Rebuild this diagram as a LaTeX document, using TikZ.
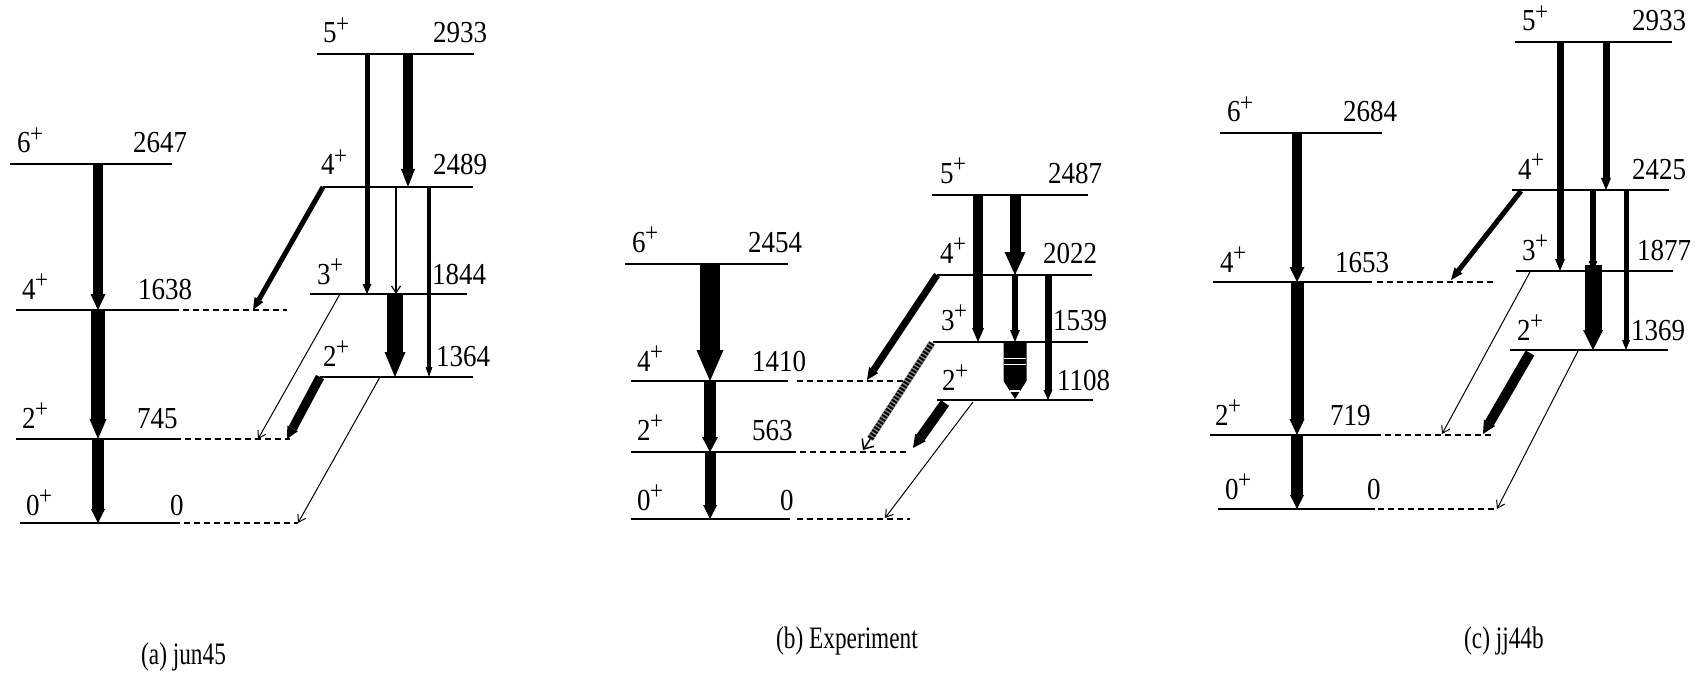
\documentclass[tikz,border=0pt]{standalone}
\usepackage{fontspec}
\setmainfont{Liberation Serif}
\usetikzlibrary{arrows.meta}
\newcommand\spn[1]{#1\hspace{-0.5pt}\raisebox{0.36em}{\fontsize{23}{23}\selectfont +}}
\newcommand\tall[1]{\scalebox{1}[1.13]{#1}}
\newcommand\ctall[1]{\scalebox{0.97}[1.3]{#1}}
\tikzset{
  lvl/.style={line width=1.3pt},
  dlvl/.style={line width=1.1pt, dash pattern=on 6pt off 4pt},
  lab/.style={font=\fontsize{27}{27}\selectfont, anchor=base west, inner sep=0pt},
  capt/.style={font=\fontsize{24}{24}\selectfont, anchor=base west, inner sep=0pt},
  ga/.style n args={3}{line width=#1pt, -{Triangle[width=#2pt,length=#3pt,line width=0pt]}},
  tarr/.style={line width=1pt, -{Straight Barb[length=7pt,width=9pt]}}
}
\begin{document}
\begin{tikzpicture}[x=1pt,y=-1pt]
\useasboundingbox[fill=white] (0,0) rectangle (1701,674);

% ================= panel (a) =================
\draw[lvl] (10,164) -- (172,164);
\draw[lvl] (16,310) -- (173,310);  \draw[dlvl] (173,310) -- (287,310);
\draw[lvl] (16,439) -- (175,439);  \draw[dlvl] (175,439) -- (290,439);
\draw[lvl] (20,523) -- (180,523);  \draw[dlvl] (184,523) -- (298,523);
\draw[lvl] (317,54) -- (474,54);
\draw[lvl] (323,187) -- (473,187);
\draw[lvl] (310,294) -- (467,294);
\draw[lvl] (320,377) -- (473,377);

\node[lab] (a6) at (17,153) {\tall{\spn{6}}};   \node[lab] (a6e) at (133,153) {\tall{2647}};
\node[lab] (a4) at (22,299) {\tall{\spn{4}}};   \node[lab] (a4e) at (138,299) {\tall{1638}};
\node[lab] (a2) at (22,428) {\tall{\spn{2}}};   \node[lab] (a2e) at (137,428) {\tall{745}};
\node[lab] (a0) at (26,515) {\tall{\spn{0}}};   \node[lab] (a0e) at (170,515) {\tall{0}};
\node[lab] (ag5) at (323,43) {\tall{\spn{5}}};  \node[lab] (ag5e) at (433,43) {\tall{2933}};
\node[lab] (ag4) at (321,175) {\tall{\spn{4}}}; \node[lab] (ag4e) at (433,175) {\tall{2489}};
\node[lab] (ag3) at (317,284) {\tall{\spn{3}}}; \node[lab] (ag3e) at (432,284) {\tall{1844}};
\node[lab] (ag2) at (323,366) {\tall{\spn{2}}}; \node[lab] (ag2e) at (436,366) {\tall{1364}};

\draw[ga={10}{15}{16}] (98,164) -- (98,310);
\draw[ga={14}{17}{20}] (98,310) -- (98,439);
\draw[ga={12}{14}{14}] (98,439) -- (98,523);
\draw[ga={5}{9}{10}] (367,54) -- (367,294);
\draw[ga={10}{14}{18}] (408,54) -- (408,187);
\draw[tarr, line width=1.2pt] (396,187) -- (396,294);
\draw[ga={4}{7}{10}] (429,187) -- (429,377);
\draw[ga={16}{21}{25}] (395,294) -- (395,377);
\draw[ga={5}{10}{12}] (323,187) -- (253,310);
\draw[tarr] (340,294) -- (258,439);
\draw[ga={9}{12}{12}] (320,377) -- (287,439);
\draw[tarr] (380,377) -- (298,523);

\node[capt] (capa) at (141,664) {\ctall{(a) jun45}};

% ================= panel (b) =================
\draw[lvl] (625,264) -- (788,264);
\draw[lvl] (631,381) -- (788,381);  \draw[dlvl] (797,381) -- (910,381);
\draw[lvl] (631,452) -- (796,452);  \draw[dlvl] (800,452) -- (907,452);
\draw[lvl] (631,519) -- (790,519);  \draw[dlvl] (797,519) -- (910,519);
\draw[lvl] (932,195) -- (1088,195);
\draw[lvl] (937,275) -- (1092,275);
\draw[lvl] (933,342) -- (1088,342);
\draw[lvl] (937,400) -- (1093,400);

\node[lab] (b6) at (632,252) {\tall{\spn{6}}};   \node[lab] (b6e) at (748,252) {\tall{2454}};
\node[lab] (b4) at (637,371) {\tall{\spn{4}}};   \node[lab] (b4e) at (752,371) {\tall{1410}};
\node[lab] (b2) at (637,440) {\tall{\spn{2}}};   \node[lab] (b2e) at (752,440) {\tall{563}};
\node[lab] (b0) at (637,510) {\tall{\spn{0}}};   \node[lab] (b0e) at (780,510) {\tall{0}};
\node[lab] (bg5) at (940,183) {\tall{\spn{5}}};  \node[lab] (bg5e) at (1048,183) {\tall{2487}};
\node[lab] (bg4) at (940,263) {\tall{\spn{4}}};  \node[lab] (bg4e) at (1043,263) {\tall{2022}};
\node[lab] (bg3) at (941,330) {\tall{\spn{3}}};  \node[lab] (bg3e) at (1053,330) {\tall{1539}};
\node[lab] (bg2) at (942,390) {\tall{\spn{2}}};  \node[lab] (bg2e) at (1057,390) {\tall{1108}};

\draw[ga={20}{27}{31}] (710,264) -- (710,381);
\draw[ga={12}{16}{15}] (710,381) -- (710,452);
\draw[ga={11}{14}{14}] (710,452) -- (710,519);
\draw[ga={10}{12}{14}] (978,195) -- (978,342);
\draw[ga={11}{21}{23}] (1015,195) -- (1015,275);
\draw[ga={6}{10}{12}] (1015,275) -- (1015,342);
\draw[ga={7}{9}{10}] (1048,275) -- (1048,400);
% striped 3+ -> 2+
\fill (1003.5,342) -- (1026.5,342) -- (1026.5,381) -- (1015,399) -- (1003.5,381) -- cycle;
\draw[white, line width=1.2pt] (1004,358.5) -- (1026,358.5) (1004,364.5) -- (1026,364.5) (1010,391) -- (1020,391);
\draw[ga={7}{11}{12}] (937,275) -- (867,380);
% hatched 3+ -> 2+
\draw[line width=7pt, black!45] (932,343) -- (870,439);
\draw[line width=6pt, dash pattern=on 2pt off 1.6pt] (932,343) -- (870,439);
\draw[line width=1.5pt, -{Straight Barb[length=8pt,width=14pt]}] (871,438) -- (863,450);
\draw[ga={10}{13}{13}] (945,403) -- (913,448);
\draw[tarr] (973,402) -- (885,518);

\node[capt] (capb) at (776,648) {\ctall{(b) Experiment}};

% ================= panel (c) =================
\draw[lvl] (1220,133) -- (1382,133);
\draw[lvl] (1213,282) -- (1372,282);  \draw[dlvl] (1377,282) -- (1493,282);
\draw[lvl] (1210,435) -- (1375,435);  \draw[dlvl] (1375,435) -- (1495,435);
\draw[lvl] (1218,509) -- (1375,509);  \draw[dlvl] (1378,509) -- (1495,509);
\draw[lvl] (1515,42) -- (1672,42);
\draw[lvl] (1512,190) -- (1669,190);
\draw[lvl] (1516,271) -- (1673,271);
\draw[lvl] (1510,350) -- (1668,350);

\node[lab] (c6) at (1227,122) {\tall{\spn{6}}};   \node[lab] (c6e) at (1343,122) {\tall{2684}};
\node[lab] (c4) at (1220,272) {\tall{\spn{4}}};   \node[lab] (c4e) at (1335,272) {\tall{1653}};
\node[lab] (c2) at (1215,425) {\tall{\spn{2}}};   \node[lab] (c2e) at (1330,425) {\tall{719}};
\node[lab] (c0) at (1225,499) {\tall{\spn{0}}};   \node[lab] (c0e) at (1367,499) {\tall{0}};
\node[lab] (cg5) at (1522,31) {\tall{\spn{5}}};   \node[lab] (cg5e) at (1632,31) {\tall{2933}};
\node[lab] (cg4) at (1518,179) {\tall{\spn{4}}};  \node[lab] (cg4e) at (1632,179) {\tall{2425}};
\node[lab] (cg3) at (1522,260) {\tall{\spn{3}}};  \node[lab] (cg3e) at (1637,260) {\tall{1877}};
\node[lab] (cg2) at (1517,340) {\tall{\spn{2}}};  \node[lab] (cg2e) at (1631,340) {\tall{1369}};

\draw[ga={10}{15}{15}] (1297,133) -- (1297,282);
\draw[ga={13}{15}{16}] (1297,282) -- (1297,435);
\draw[ga={12}{14}{14}] (1297,435) -- (1297,509);
\draw[ga={7}{10}{12}] (1560,42) -- (1560,271);
\draw[ga={7}{10}{12}] (1606,42) -- (1606,190);
\draw[ga={6}{9}{10}] (1593,190) -- (1593,271);
\draw[ga={5}{8}{10}] (1626,190) -- (1626,350);
\draw[ga={17}{20}{20}] (1593,265) -- (1593,350);
\draw[ga={5}{10}{12}] (1521,191) -- (1451,280);
\draw[tarr] (1530,272) -- (1442,434);
\draw[ga={10}{13}{13}] (1530,353) -- (1483,434);
\draw[tarr] (1578,351) -- (1497,509);

\node[capt] (capc) at (1464,648) {\ctall{(c) jj44b}};
\end{tikzpicture}
\end{document}
